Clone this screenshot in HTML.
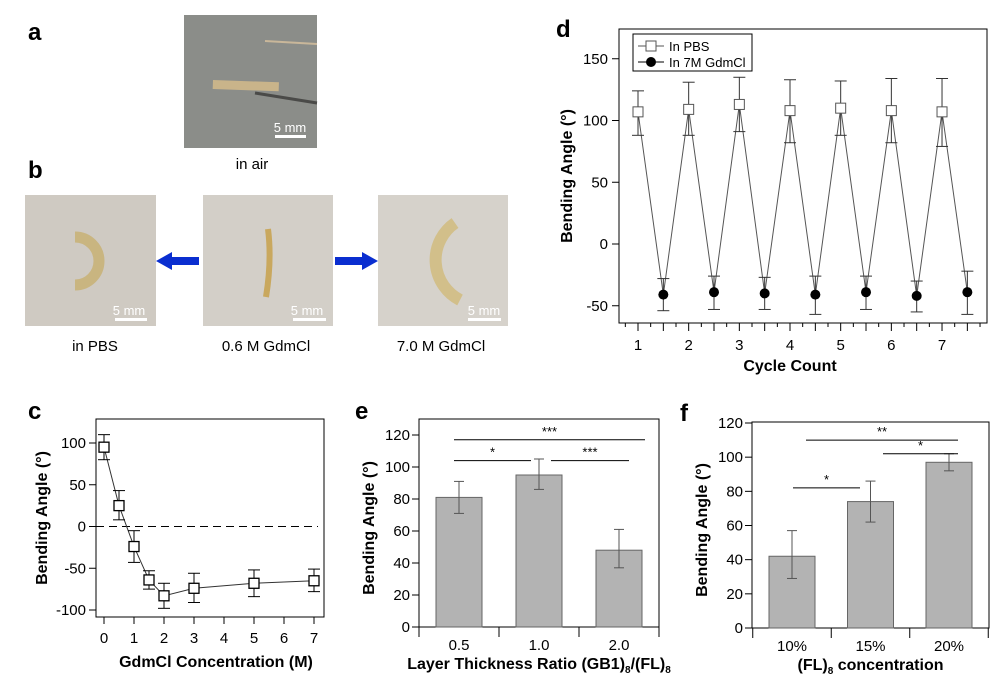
<!DOCTYPE html>
<html><head><meta charset="utf-8"><style>
body{margin:0;background:#fff;}
svg{display:block;font-family:"Liberation Sans",sans-serif;}
</style></head><body>
<svg id="fig" width="1001" height="687" viewBox="0 0 1001 687">
<text x="28" y="40" font-size="24" font-weight="bold">a</text>
<text x="28" y="178" font-size="24" font-weight="bold">b</text>
<text x="28" y="419" font-size="24" font-weight="bold">c</text>
<text x="355" y="419" font-size="24" font-weight="bold">e</text>
<text x="680" y="421" font-size="24" font-weight="bold">f</text>
<text x="556" y="37" font-size="24" font-weight="bold">d</text>

<g>
<rect x="184" y="15" width="133" height="133" fill="#8b8d89"/>
<line x1="265" y1="41" x2="317" y2="44" stroke="#c9b79a" stroke-width="2"/>
<line x1="255" y1="93" x2="317" y2="103" stroke="#4a4a48" stroke-width="3"/>
<rect x="213" y="80" width="66" height="9" fill="#c9b48a" transform="rotate(2 213 80)"/>
<rect x="275" y="135" width="31" height="3" fill="#fff"/>
<text x="290" y="132" font-size="13" fill="#fff" text-anchor="middle">5 mm</text>
</g>
<text x="252" y="169" font-size="15" text-anchor="middle">in air</text>

<g>
<rect x="25" y="195" width="131" height="131" fill="#cfcac2"/>
<path d="M75 237 A24 24 0 0 1 75 285" fill="none" stroke="#c9b580" stroke-width="11"/>
<rect x="115" y="318" width="32" height="3" fill="#fff"/>
<text x="129" y="315" font-size="13" fill="#fff" text-anchor="middle">5 mm</text>
</g>
<g>
<rect x="203" y="195" width="130" height="131" fill="#d3cfc8"/>
<path d="M268 229 Q272 260 266 297" fill="none" stroke="#c9a85e" stroke-width="6"/>
<rect x="293" y="318" width="33" height="3" fill="#fff"/>
<text x="307" y="315" font-size="13" fill="#fff" text-anchor="middle">5 mm</text>
</g>
<g>
<rect x="378" y="195" width="130" height="131" fill="#d6d2cb"/>
<path d="M455 223 A45 45 0 0 0 460 300" fill="none" stroke="#d2bf8a" stroke-width="12"/>
<rect x="468" y="318" width="33" height="3" fill="#fff"/>
<text x="484" y="315" font-size="13" fill="#fff" text-anchor="middle">5 mm</text>
</g>
<g fill="#0a2ed0">
<rect x="170" y="257" width="29" height="8"/><polygon points="156,261 172,252 172,270"/>
</g>
<g fill="#0a2ed0">
<rect x="335" y="257" width="30" height="8"/><polygon points="378,261 362,252 362,270"/>
</g>
<text x="95" y="351" font-size="15" text-anchor="middle">in PBS</text>
<text x="266" y="351" font-size="15" text-anchor="middle">0.6 M GdmCl</text>
<text x="441" y="351" font-size="15" text-anchor="middle">7.0 M GdmCl</text>

<g id="pd"></g><g id="pc"></g><g id="pe"></g><g id="pf"></g>
</svg>
<script>
const dCycles = [1,2,3,4,5,6,7];
const dPbs = [107,109,113,108,110,108,107];
const dPbsHi = [124,131,135,133,132,134,134];
const dPbsLo = [88,88,91,82,88,82,79];
const dGdm = [-41,-39,-40,-41,-39,-42,-39];
const dGdmHi = [-28,-26,-27,-26,-26,-30,-22];
const dGdmLo = [-54,-53,-53,-57,-53,-55,-57];
const dYTicks = [-50,0,50,100,150];
const cConc = [0,0.5,1,1.5,2,3,5,7];
const cVal = [95,25,-24,-64,-83,-74,-68,-65];
const cHi = [110,43,-5,-53,-68,-56,-52,-51];
const cLo = [80,8,-43,-75,-98,-91,-84,-78];
const cXTicks = [0,1,2,3,4,5,6,7];
const cYTicks = [-100,-50,0,50,100];
const eCats = ["0.5","1.0","2.0"];
const eVal = [81,95,48];
const eHi = [91,105,61];
const eLo = [71,86,37];
const fCats = ["10%","15%","20%"];
const fVal = [42,74,97];
const fHi = [57,86,102];
const fLo = [29,62,92];
const barYTicks = [0,20,40,60,80,100,120];

const NS="http://www.w3.org/2000/svg";
function mk(p,tag,at,txt){const e=document.createElementNS(NS,tag);for(const k in at)e.setAttribute(k,at[k]);if(txt!==undefined)e.textContent=txt;p.appendChild(e);return e;}

(function(){
const g=document.getElementById('pd');
const X=v=>638+(v-1)*50.67, Y=v=>244-v*1.235;
const fr=mk(g,'rect',{x:619,y:29,width:368,height:294,fill:'none',stroke:'#000','stroke-width':1});


dYTicks.forEach(t=>{mk(g,'line',{x1:612,x2:619,y1:Y(t),y2:Y(t),stroke:'#000'});
 const tx=mk(g,'text',{x:608,y:Y(t)+5,'font-size':15,'text-anchor':'end'},t);
 
 });
for(let v=0.75;v<=7.75;v+=0.25){const major=Math.abs(v*2-Math.round(v*2))<1e-6;mk(g,'line',{x1:X(v),x2:X(v),y1:323,y2:323+(major?8:4),stroke:'#000'});}
dCycles.forEach(c=>{const tx=mk(g,'text',{x:X(c),y:350,'font-size':15,'text-anchor':'middle'},c);
 
 });
const yt=mk(g,'text',{x:0,y:0,'font-size':16,'font-weight':'bold','text-anchor':'middle',transform:`translate(572,176) rotate(-90)`},'Bending Angle (°)');


const xt=mk(g,'text',{x:790,y:371,'font-size':16,'font-weight':'bold','text-anchor':'middle'},'Cycle Count');


let pts=[];dCycles.forEach((c,i)=>{pts.push([X(c),Y(dPbs[i])]);pts.push([X(c+0.5),Y(dGdm[i])]);});
const ln=mk(g,'polyline',{points:pts.map(p=>p.join(',')).join(' '),fill:'none',stroke:'#555','stroke-width':1});


dCycles.forEach((c,i)=>{
 [[X(c),dPbsHi[i],dPbsLo[i]],[X(c+0.5),dGdmHi[i],dGdmLo[i]]].forEach(([x,h,l])=>{
  mk(g,'line',{x1:x,x2:x,y1:Y(h),y2:Y(l),stroke:'#333'});
  mk(g,'line',{x1:x-6,x2:x+6,y1:Y(h),y2:Y(h),stroke:'#333'});
  mk(g,'line',{x1:x-6,x2:x+6,y1:Y(l),y2:Y(l),stroke:'#333'});});
 const s=mk(g,'rect',{x:X(c)-5,y:Y(dPbs[i])-5,width:10,height:10,fill:'#fff',stroke:'#555'});
 
 
 const d=mk(g,'circle',{cx:X(c+0.5),cy:Y(dGdm[i]),r:5,fill:'#000'});
 
 
});
const lg=mk(g,'g',{});


mk(lg,'rect',{x:633,y:34,width:119,height:37,fill:'#fff',stroke:'#000'});
mk(lg,'line',{x1:638,x2:664,y1:46,y2:46,stroke:'#555'});
mk(lg,'rect',{x:646,y:41,width:10,height:10,fill:'#fff',stroke:'#555'});
mk(lg,'text',{x:669,y:51,'font-size':13},'In PBS');
mk(lg,'line',{x1:638,x2:664,y1:62,y2:62,stroke:'#000'});
mk(lg,'circle',{cx:651,cy:62,r:5,fill:'#000'});
mk(lg,'text',{x:669,y:67,'font-size':13},'In 7M GdmCl');
})();

(function(){
const g=document.getElementById('pc');
const X=v=>104+v*30, Y=v=>526.5-v*0.835;
const fr=mk(g,'rect',{x:96,y:419,width:228,height:198,fill:'none',stroke:'#000'});


mk(g,'line',{x1:96,x2:318,y1:Y(0),y2:Y(0),stroke:'#000','stroke-dasharray':'8,5'});
cYTicks.forEach(t=>{mk(g,'line',{x1:89,x2:96,y1:Y(t),y2:Y(t),stroke:'#000'});
 const tx=mk(g,'text',{x:86,y:Y(t)+5,'font-size':15,'text-anchor':'end'},t);
 
 });
cXTicks.forEach(t=>{mk(g,'line',{x1:X(t),x2:X(t),y1:617,y2:624,stroke:'#000'});
 const tx=mk(g,'text',{x:X(t),y:643,'font-size':15,'text-anchor':'middle'},t);
 
 });
const yt=mk(g,'text',{x:0,y:0,'font-size':16,'font-weight':'bold','text-anchor':'middle',transform:`translate(47,518) rotate(-90)`},'Bending Angle (°)');


const xt=mk(g,'text',{x:216,y:667,'font-size':16,'font-weight':'bold','text-anchor':'middle'},'GdmCl Concentration (M)');


const ln=mk(g,'polyline',{points:cConc.map((c,i)=>X(c)+','+Y(cVal[i])).join(' '),fill:'none',stroke:'#333'});


cConc.forEach((c,i)=>{const x=X(c);
 mk(g,'line',{x1:x,x2:x,y1:Y(cHi[i]),y2:Y(cLo[i]),stroke:'#000'});
 mk(g,'line',{x1:x-6,x2:x+6,y1:Y(cHi[i]),y2:Y(cHi[i]),stroke:'#000'});
 mk(g,'line',{x1:x-6,x2:x+6,y1:Y(cLo[i]),y2:Y(cLo[i]),stroke:'#000'});
 const s=mk(g,'rect',{x:x-5,y:Y(cVal[i])-5,width:10,height:10,fill:'#fff',stroke:'#000','stroke-width':1.3});
 
 });
})();

function barPanel(id,box,cats,val,hi,lo,sig,xtitle,ytx,key){
const g=document.getElementById(id);
const [x0,x1,yTop,y0,y120,c0,step]=box;
const Y=v=>y0-(y0-y120)*v/120, X=i=>c0+i*step;
const fr=mk(g,'rect',{x:x0,y:yTop,width:x1-x0,height:y0-yTop,fill:'none',stroke:'#000'});


barYTicks.forEach(t=>{mk(g,'line',{x1:x0-7,x2:x0,y1:Y(t),y2:Y(t),stroke:'#000'});
 const tx=mk(g,'text',{x:x0-9,y:Y(t)+5,'font-size':15,'text-anchor':'end'},t);
 
 });
for(let i=0;i<=cats.length;i++){const bx=X(i)-step/2;mk(g,'line',{x1:bx,x2:bx,y1:y0,y2:y0+10,stroke:'#000'});}
cats.forEach((c,i)=>{
 const b=mk(g,'rect',{x:X(i)-23,y:Y(val[i]),width:46,height:y0-Y(val[i]),fill:'#b3b3b3',stroke:'#666'});
 
 
 const x=X(i);
 mk(g,'line',{x1:x,x2:x,y1:Y(hi[i]),y2:Y(lo[i]),stroke:'#555'});
 mk(g,'line',{x1:x-5,x2:x+5,y1:Y(hi[i]),y2:Y(hi[i]),stroke:'#555'});
 mk(g,'line',{x1:x-5,x2:x+5,y1:Y(lo[i]),y2:Y(lo[i]),stroke:'#555'});
 const tx=mk(g,'text',{x:x,y:y0+23,'font-size':15,'text-anchor':'middle'},c);
 
 });
sig.forEach(s=>{const [a,b,v,lab]=s;
 const l=mk(g,'line',{x1:a,x2:b,y1:Y(v),y2:Y(v),stroke:'#000'});
 
 
 mk(g,'text',{x:(a+b)/2,y:Y(v)-4,'font-size':13,'text-anchor':'middle'},lab);});
const yt=mk(g,'text',{x:0,y:0,'font-size':16,'font-weight':'bold','text-anchor':'middle',transform:`translate(${ytx},${(yTop+y0)/2+5}) rotate(-90)`},'Bending Angle (°)');


const xt=mk(g,'text',{x:(x0+x1)/2,y:y0+42,'font-size':16,'font-weight':'bold','text-anchor':'middle'});


xt.innerHTML=xtitle;
}
barPanel('pe',[419,659,419,627,435,459,80],eCats,eVal,eHi,eLo,
 [[454,645,117,'***'],[454,531,104,'*'],[551,629,104,'***']],
 'Layer Thickness Ratio (GB1)<tspan font-size="10" dy="4">8</tspan><tspan dy="-4">/(FL)</tspan><tspan font-size="10" dy="4">8</tspan>',374,'e');
barPanel('pf',[752,989,422,628,423,792,78.5],fCats,fVal,fHi,fLo,
 [[793,860,82,'*'],[883,958,102,'*'],[806,958,110,'**']],
 '(FL)<tspan font-size="10" dy="4">8</tspan><tspan dy="-4"> concentration</tspan>',707,'f');
</script>
</body></html>
